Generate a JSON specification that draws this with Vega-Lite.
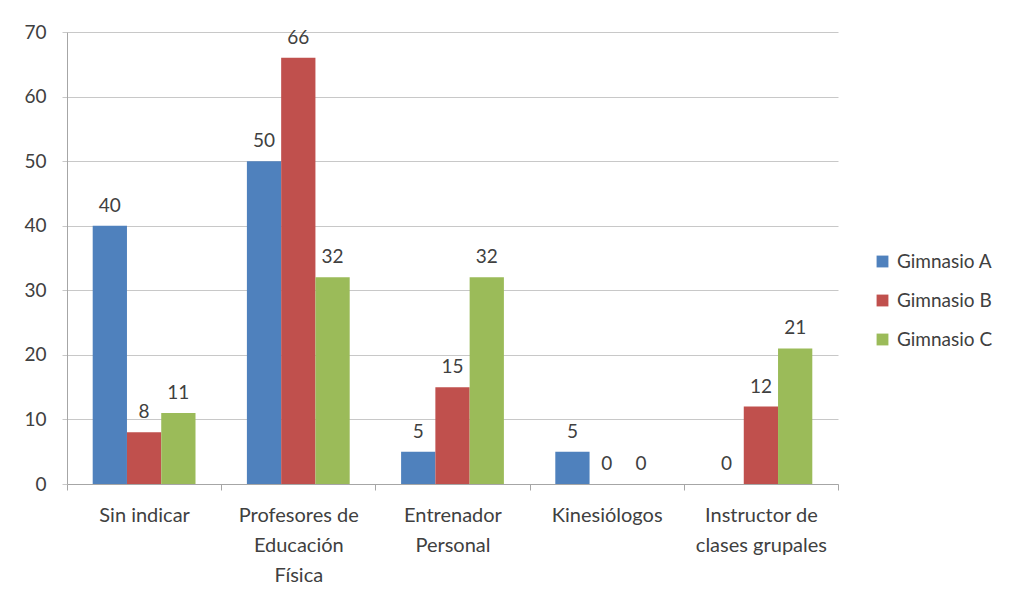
{
  "$schema": "https://vega.github.io/schema/vega-lite/v6.json",
  "autosize": "none",
  "width": 771,
  "height": 452,
  "padding": {"left": 67, "top": 32, "right": 187, "bottom": 113},
  "background": "white",
  "config": {"font": "Lato", "view": {"stroke": null}},
  "data": {
    "values": [
      {"categoria": "Sin indicar", "gimnasio": "Gimnasio A", "valor": 40},
      {"categoria": "Sin indicar", "gimnasio": "Gimnasio B", "valor": 8},
      {"categoria": "Sin indicar", "gimnasio": "Gimnasio C", "valor": 11},
      {"categoria": "Profesores de Educación Física", "gimnasio": "Gimnasio A", "valor": 50},
      {"categoria": "Profesores de Educación Física", "gimnasio": "Gimnasio B", "valor": 66},
      {"categoria": "Profesores de Educación Física", "gimnasio": "Gimnasio C", "valor": 32},
      {"categoria": "Entrenador Personal", "gimnasio": "Gimnasio A", "valor": 5},
      {"categoria": "Entrenador Personal", "gimnasio": "Gimnasio B", "valor": 15},
      {"categoria": "Entrenador Personal", "gimnasio": "Gimnasio C", "valor": 32},
      {"categoria": "Kinesiólogos", "gimnasio": "Gimnasio A", "valor": 5},
      {"categoria": "Kinesiólogos", "gimnasio": "Gimnasio B", "valor": 0},
      {"categoria": "Kinesiólogos", "gimnasio": "Gimnasio C", "valor": 0},
      {"categoria": "Instructor de clases grupales", "gimnasio": "Gimnasio A", "valor": 0},
      {"categoria": "Instructor de clases grupales", "gimnasio": "Gimnasio B", "valor": 12},
      {"categoria": "Instructor de clases grupales", "gimnasio": "Gimnasio C", "valor": 21}
    ]
  },
  "encoding": {
    "x": {
      "field": "categoria",
      "type": "nominal",
      "sort": ["Sin indicar", "Profesores de Educación Física", "Entrenador Personal", "Kinesiólogos", "Instructor de clases grupales"],
      "scale": {"paddingInner": 0, "paddingOuter": 0},
      "axis": {
        "title": null,
        "labelAngle": 0,
        "tickBand": "extent",
        "ticks": true,
        "tickSize": 6,
        "tickColor": "#a6a6a6",
        "domainColor": "#a6a6a6",
        "labelFontSize": 20,
        "labelColor": "#404040",
        "labelPadding": 15,
        "labelLineHeight": 30,
        "labelLimit": 200,
        "labelExpr": "datum.value == 'Profesores de Educación Física' ? ['Profesores de', 'Educación', 'Física'] : datum.value == 'Entrenador Personal' ? ['Entrenador', 'Personal'] : datum.value == 'Instructor de clases grupales' ? ['Instructor de', 'clases grupales'] : datum.value"
      }
    },
    "xOffset": {
      "field": "gimnasio",
      "type": "nominal",
      "scale": {"paddingOuter": 0.75, "paddingInner": 0}
    },
    "y": {
      "field": "valor",
      "type": "quantitative",
      "scale": {"domain": [0, 70], "nice": false},
      "axis": {
        "title": null,
        "values": [0, 10, 20, 30, 40, 50, 60, 70],
        "grid": true,
        "gridColor": "#c8c8c8",
        "tickColor": "#c8c8c8",
        "tickSize": 5,
        "domainColor": "#a6a6a6",
        "labelFontSize": 19,
        "labelColor": "#404040",
        "labelPadding": 16
      }
    }
  },
  "layer": [
    {
      "mark": {"type": "bar"},
      "encoding": {
        "color": {
          "field": "gimnasio",
          "type": "nominal",
          "scale": {"domain": ["Gimnasio A", "Gimnasio B", "Gimnasio C"], "range": ["#4F81BD", "#C0504D", "#9BBB59"]},
          "legend": {
            "title": null,
            "orient": "none",
            "legendX": 806,
            "legendY": 220,
            "symbolType": "square",
            "symbolSize": 140,
            "symbolStrokeWidth": 0,
            "labelFontSize": 19,
            "labelColor": "#404040",
            "labelOffset": 5,
            "rowPadding": 19
          }
        }
      }
    },
    {
      "mark": {"type": "text", "baseline": "bottom", "dy": -10, "fontSize": 19, "color": "#404040"},
      "encoding": {"text": {"field": "valor", "type": "quantitative"}}
    }
  ]
}
